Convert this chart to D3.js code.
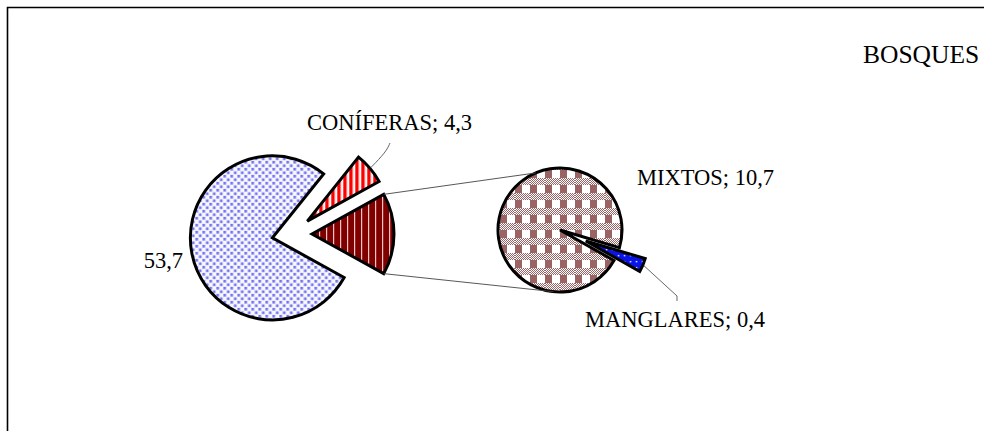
<!DOCTYPE html>
<html>
<head>
<meta charset="utf-8">
<script src="https://cdn.jsdelivr.net/npm/d3@7"></script>
<style>
    body { margin: 0; background: #fff; }
</style>
</head>
<body>
<svg id="chart" width="984" height="431"></svg>
<script>
(function(){
    'use strict';

    // data
    var mainCategories = ['', 'CONÍFERAS'];
    var mainValues = [53.7, 4.3];
    var subCategories = ['MIXTOS', 'MANGLARES'];
    var subValues = [10.7, 0.4];
    var chartTitle = 'BOSQUES';

    var svg = d3.select('#chart');
    var deg = Math.PI / 180;
    var serif = "'Liberation Serif', 'Tinos', 'DejaVu Serif', serif";

    var mainC = {x: 292, y: 234}, mainR = 82, mainExplode = 20;
    var subC = {x: 560, y: 230}, subR = 62, subExplode = 28;

    function fmt(v) { return String(v).replace('.', ','); }
    function polar(c, r, a) { return [c.x + r * Math.sin(a), c.y - r * Math.cos(a)]; }

    // patterns
    var defs = svg.append('defs');

    var p = defs.append('pattern').attr('id', 'pBlue')
        .attr('patternUnits', 'userSpaceOnUse').attr('width', 7).attr('height', 7);
    p.append('rect').attr('width', 7).attr('height', 7).attr('fill', '#f8f8ff');
    p.append('rect').attr('width', 2.7).attr('height', 2.7).attr('fill', '#7272ee');
    p.append('rect').attr('x', 3.5).attr('y', 3.5).attr('width', 2.7).attr('height', 2.7).attr('fill', '#7272ee');

    p = defs.append('pattern').attr('id', 'pRed')
        .attr('patternUnits', 'userSpaceOnUse').attr('width', 6).attr('height', 6);
    p.append('rect').attr('width', 6).attr('height', 6).attr('fill', '#fff');
    p.append('rect').attr('width', 3.4).attr('height', 6).attr('fill', '#ff0000');

    p = defs.append('pattern').attr('id', 'pDark')
        .attr('patternUnits', 'userSpaceOnUse').attr('width', 7).attr('height', 7);
    p.append('rect').attr('width', 7).attr('height', 7).attr('fill', '#800000');
    p.append('rect').attr('width', 1.2).attr('height', 7).attr('fill', '#f2c4c4');

    p = defs.append('pattern').attr('id', 'pPlaid')
        .attr('patternUnits', 'userSpaceOnUse').attr('width', 15).attr('height', 15);
    p.append('rect').attr('width', 15).attr('height', 15).attr('fill', '#fff');
    p.append('rect').attr('width', 7).attr('height', 8).attr('fill', '#9a6464');
    for (var yy = 8; yy < 15; yy++) {
        for (var xx = (yy % 2); xx < 15; xx += 2) {
            p.append('rect').attr('x', xx).attr('y', yy).attr('width', 1).attr('height', 1).attr('fill', '#9a6464');
        }
    }

    p = defs.append('pattern').attr('id', 'pBlueDots')
        .attr('patternUnits', 'userSpaceOnUse').attr('width', 6).attr('height', 6);
    p.append('rect').attr('width', 6).attr('height', 6).attr('fill', '#0a14e6');
    p.append('rect').attr('x', 2).attr('y', 2).attr('width', 1.4).attr('height', 1.4).attr('fill', '#fff');

    // frame
    svg.append('path')
        .attr('d', 'M7.5,440 V7.5 H990')
        .attr('fill', 'none').attr('stroke', '#000').attr('stroke-width', 1.6);

    // main pie
    var otherValue = d3.sum(subValues);
    var mainData = mainValues.concat([otherValue]);
    var total = d3.sum(mainData);
    var otherSpan = 2 * Math.PI * otherValue / total;
    var mStart = Math.PI / 2 + otherSpan / 2;

    var mainPie = d3.pie().sort(null).value(function (d) { return d; })
        .startAngle(mStart).endAngle(mStart + 2 * Math.PI);
    var mainArcs = mainPie(mainData);
    var mainFills = ['url(#pBlue)', 'url(#pRed)', 'url(#pDark)'];
    var arcMain = d3.arc().innerRadius(0).outerRadius(mainR);

    mainArcs.forEach(function (a, i) {
        var mid = (a.startAngle + a.endAngle) / 2;
        a.origin = {x: mainC.x + mainExplode * Math.sin(mid), y: mainC.y - mainExplode * Math.cos(mid)};
        a.mid = mid;
        svg.append('path')
            .attr('transform', 'translate(' + a.origin.x + ',' + a.origin.y + ')')
            .attr('d', arcMain(a))
            .attr('fill', mainFills[i])
            .attr('stroke', '#000').attr('stroke-width', 3).attr('stroke-linejoin', 'miter');
    });

    // secondary pie
    var subTotal = d3.sum(subValues);
    var span0 = 2 * Math.PI * subValues[0] / subTotal;
    var span1 = 2 * Math.PI * subValues[1] / subTotal;
    var sStart = 113 * deg + 2 * Math.PI - span0 - span1 / 2;
    var subPie = d3.pie().sort(null).value(function (d) { return d; })
        .startAngle(sStart).endAngle(sStart + 2 * Math.PI);
    var subArcs = subPie(subValues);
    var subFills = ['url(#pPlaid)', 'url(#pBlueDots)'];
    var arcSub = d3.arc().innerRadius(0).outerRadius(subR);

    subArcs.forEach(function (a, i) {
        var mid = (a.startAngle + a.endAngle) / 2;
        var ex = i === 1 ? subExplode : 0;
        a.origin = {x: subC.x + ex * Math.sin(mid), y: subC.y - ex * Math.cos(mid)};
        a.mid = mid;
        svg.append('path')
            .attr('transform', 'translate(' + a.origin.x + ',' + a.origin.y + ')')
            .attr('d', arcSub(a))
            .attr('fill', subFills[i])
            .attr('stroke', '#000').attr('stroke-width', 3).attr('stroke-linejoin', 'miter');
    });

    // connector lines between the pies
    var other = mainArcs[2];
    var line = d3.line();
    [[other.startAngle, -23 * deg], [other.endAngle, 186 * deg]].forEach(function (pair) {
        svg.append('path')
            .attr('d', line([polar(other.origin, mainR, pair[0]), polar(subC, subR, pair[1])]))
            .attr('fill', 'none').attr('stroke', '#444').attr('stroke-width', 0.9);
    });

    // leader lines
    var con = mainArcs[1];
    var cTip = polar(con.origin, mainR + 1, con.mid);
    svg.append('path')
        .attr('d', d3.line().curve(d3.curveBasis)([cTip, [386, 152], [390, 143]]))
        .attr('fill', 'none').attr('stroke', '#555').attr('stroke-width', 0.9);

    var man = subArcs[1];
    var mTip = polar(man.origin, subR + 1, man.mid);
    svg.append('path')
        .attr('d', line([mTip, [677, 296], [677, 301]]))
        .attr('fill', 'none').attr('stroke', '#555').attr('stroke-width', 0.9);

    // labels
    var fs = 22.5;
    function label(x, y, txt, anchor, size) {
        svg.append('text').attr('x', x).attr('y', y)
            .attr('text-anchor', anchor || 'start')
            .attr('font-family', serif)
            .attr('font-size', size || fs)
            .attr('fill', '#000')
            .text(txt);
    }
    label(183, 268, mainCategories[0] ? mainCategories[0] + '; ' + fmt(mainValues[0]) : fmt(mainValues[0]), 'end');
    label(307, 130, mainCategories[1] + '; ' + fmt(mainValues[1]));
    label(637, 185, subCategories[0] + '; ' + fmt(subValues[0]));
    label(585, 327, subCategories[1] + '; ' + fmt(subValues[1]));
    label(863, 63, chartTitle, 'start', 25.5);
})();
</script>
</body>
</html>
